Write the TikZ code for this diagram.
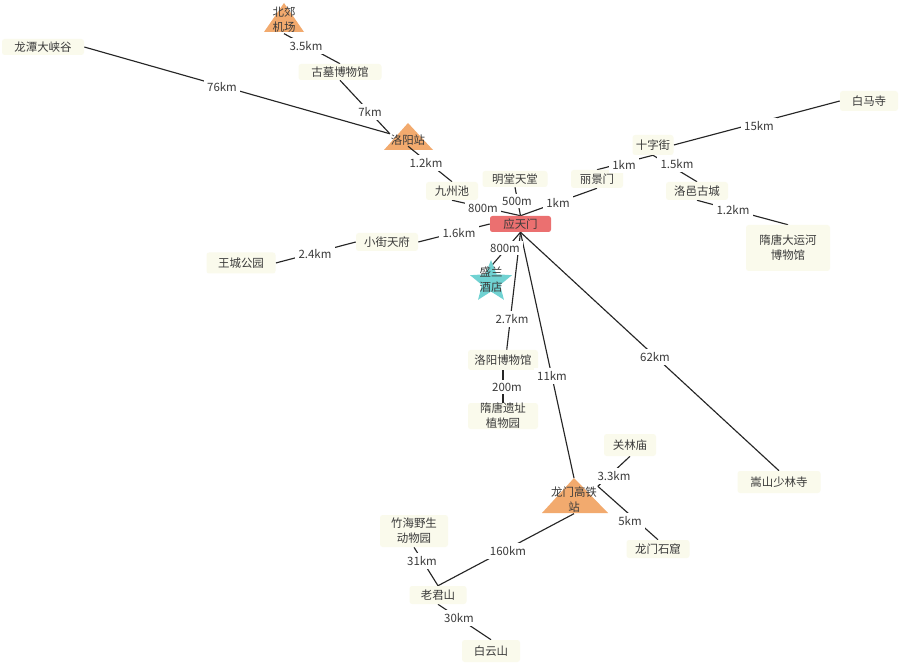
\documentclass[tikz,border=0pt]{standalone}
\usepackage{fontspec}
\setmainfont{Noto Sans CJK SC}
\usetikzlibrary{shapes.geometric,backgrounds}
\definecolor{bxfill}{HTML}{FAFAEC}
\definecolor{redbx}{HTML}{EB7070}
\definecolor{orangetri}{HTML}{F2AA6E}
\definecolor{tealstar}{HTML}{70D2D2}
\definecolor{txt}{HTML}{3A3A3A}
\definecolor{edgec}{HTML}{262626}
\tikzset{
  every node/.style={font=\fontsize{8.6}{11.2}\selectfont,text=txt},
  bx/.style 2 args={fill=bxfill,rounded corners=2pt,inner sep=0pt,align=center,minimum width=#1*0.75pt,minimum height=#2*0.75pt},
  redn/.style 2 args={fill=redbx,rounded corners=1.8pt,inner sep=0pt,align=center,minimum width=#1*0.75pt,minimum height=#2*0.75pt},
  tritext/.style={inner sep=0.5pt,align=center},
  lbl/.style={fill=white,inner sep=2.4pt},
  conn/.style={draw=edgec,line width=0.85pt},
  tri/.style={fill=orangetri},
}
\begin{document}
\begin{tikzpicture}[x=0.75pt,y=-0.75pt]
\useasboundingbox (0,0) rectangle (908,663);
% triangle bodies
\begin{scope}[on background layer]
\fill[white] (0,0) rectangle (908,663);
\coordinate (apexLY) at (408,123);
\coordinate (apexLM) at (574,478);
\fill[tri] (284,3) -- (304,32) -- (264,32) -- cycle;
\fill[tri] (apexLY) -- (433,150) -- (384,150) -- cycle;
\fill[tri] (apexLM) -- (608,513) -- (542,513) -- cycle;
\end{scope}
% nodes
\node[bx={82}{16}] (lt) at (43,47) {龙潭大峡谷};
\node[tritext] (bj) at (284,20) {北郊\\机场};
\node[bx={83}{16}] (gm) at (340,72) {古墓博物馆};
\node[tritext] (ly) at (408,140) {洛阳站};
\node[bx={52}{18}] (jz) at (452,191) {九州池};
\node[bx={65}{16}] (mt) at (515,179) {明堂天堂};
\node[bx={52}{18}] (lj) at (597,179) {丽景门};
\node[bx={41}{20}] (sz) at (653,145) {十字街};
\node[bx={62}{18}] (lg) at (697,191) {洛邑古城};
\node[bx={84}{46}] (yh) at (788,248) {隋唐大运河\\博物馆};
\node[bx={58}{20}] (bm) at (869,101) {白马寺};
\node[redn={61}{16}] (yt) at (520.5,224) {应天门};
\node[bx={62}{18}] (xj) at (387,242) {小街天府};
\node[bx={69}{21}] (wc) at (241,263) {王城公园};
\node[star,star points=5,star point ratio=2.3,fill=tealstar,minimum size=44*0.75pt,inner sep=0pt] (stars) at (491,282) {};
\node[tritext] (sl) at (491,280) {盛兰\\酒店};
\node[bx={70}{20}] (lb) at (503,360) {洛阳博物馆};
\node[bx={70}{26}] (sy) at (503,416) {隋唐遗址\\植物园};
\node[tritext] (lm) at (574,500) {龙门高铁\\站};
\node[bx={83}{22}] (ss) at (779,482) {嵩山少林寺};
\node[bx={52}{22}] (gl) at (630,445) {关林庙};
\node[bx={63}{18}] (sk) at (658,549) {龙门石窟};
\node[bx={68}{32}] (zh) at (414,531) {竹海野生\\动物园};
\node[bx={57}{18}] (lj2) at (438,595) {老君山};
\node[bx={58}{22}] (by) at (491,651) {白云山};
% connectors
\begin{scope}[on background layer]
\draw[conn] (bj.south) -- (gm.north);
\draw[conn] (gm.south) -- (ly.north west);
\draw[conn] (lt.east) -- (ly.north west);
\draw[conn] (ly.south) -- (jz.north);
\draw[conn] (jz.south) -- (yt.north);
\draw[conn] (mt.south) -- (yt.north);
\draw[conn] (lj.south) -- (yt.north);
\draw[conn] (sz.south) -- (lj.north);
\draw[conn] (sz.south) -- (lg.north);
\draw[conn] (sz.east) -- (bm.west);
\draw[conn] (lg.south) -- (yh.north);
\draw[conn] (yt.west) -- (xj.east);
\draw[conn] (xj.west) -- (wc.east);
\draw[conn] (yt.south) -- (sl.north);
\draw[conn] (yt.south) -- (lb.70);
\draw[conn] (lb.south) -- (sy.north);
\draw[conn] (yt.south) -- (apexLM);
\draw[conn] (yt.south) -- (ss.north);
\draw[conn] (lm.north east) -- (gl.south);
\draw[conn] (lm.north east) -- (sk.north);
\draw[conn] (lm.south) -- (lj2.north);
\draw[conn] (lj2.north) -- (zh.south);
\draw[conn] (lj2.south) -- (by.north);
\end{scope}
% labels
\node[lbl] (l1) at (306,46) {3.5km};
\node[lbl] (l2) at (370,112) {7km};
\node[lbl] (l3) at (222,87) {76km};
\node[lbl] (l4) at (426,163) {1.2km};
\node[lbl] (l5) at (483,208) {800m};
\node[lbl] (l6) at (517,201) {500m};
\node[lbl] (l7) at (558,203) {1km};
\node[lbl] (l8) at (624,165) {1km};
\node[lbl] (l9) at (677,164) {1.5km};
\node[lbl] (l10) at (733,210) {1.2km};
\node[lbl] (l11) at (759,126) {15km};
\node[lbl] (l12) at (459,233) {1.6km};
\node[lbl] (l13) at (315,254) {2.4km};
\node[lbl] (l14) at (505,248) {800m};
\node[lbl] (l15) at (512,319) {2.7km};
\node[lbl] (l16) at (507,387) {200m};
\node[lbl] (l17) at (552,376) {11km};
\node[lbl] (l18) at (655,357) {62km};
\node[lbl] (l19) at (614,476) {3.3km};
\node[lbl] (l20) at (630,521) {5km};
\node[lbl] (l21) at (508,551) {160km};
\node[lbl] (l22) at (422,561) {31km};
\node[lbl] (l23) at (459,618) {30km};
\end{tikzpicture}
\end{document}
